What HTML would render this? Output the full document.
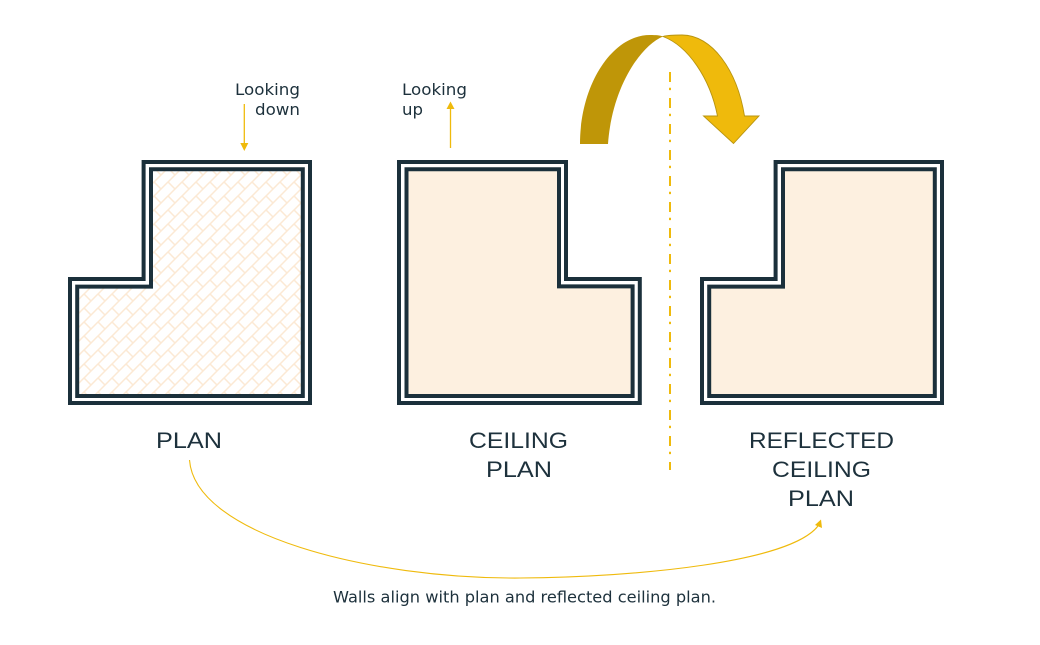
<!DOCTYPE html>
<html><head><meta charset="utf-8"><style>
html,body{margin:0;padding:0;background:#fff;width:1040px;height:645px;overflow:hidden}
svg{display:block}
text{font-family:"DejaVu Sans","Liberation Sans",sans-serif;fill:#1d313c;font-weight:normal}
.w{fill:none;stroke:#1b303b;stroke-width:4;stroke-linejoin:miter}
.g{fill:#fff;stroke:#8b979c;stroke-width:0.6}
.l{font-family:"Liberation Sans",sans-serif;font-size:22.5px}
.s{font-size:16px}
</style></head><body>
<svg width="1040" height="645" viewBox="0 0 1040 645" xmlns="http://www.w3.org/2000/svg">
<defs>
<pattern id="h" width="14" height="14" patternUnits="userSpaceOnUse">
<rect width="14" height="14" fill="#fff"/>
<path d="M0 14L14 0M-3 3L3 -3M11 17L17 11" stroke="#fce9d4" stroke-width="1.5" fill="none"/>
<path d="M0 0L7 7M14 14L16 16M-2 12L0 14" stroke="#fce9d4" stroke-width="1.5" fill="none"/>
</pattern>
</defs>

<!-- PLAN -->
<path class="g" d="M70 403V279H143.6V162H310V403Z"/>
<path d="M77.2 396V286.6H151V169.2H302.8V396Z" fill="url(#h)"/>
<path class="w" d="M70 403V279H143.6V162H310V403Z"/>
<path class="w" d="M77.2 396V286.6H151V169.2H302.8V396Z"/>

<!-- CEILING PLAN -->
<path class="g" d="M399 403V162H566V279H639.8V403Z"/>
<path d="M406.5 396V169.2H559V286.4H632.6V396Z" fill="#fdf0e0"/>
<path class="w" d="M399 403V162H566V279H639.8V403Z"/>
<path class="w" d="M406.5 396V169.2H559V286.4H632.6V396Z"/>

<!-- RCP -->
<path class="g" d="M702 403V279H775.6V162H942V403Z"/>
<path d="M709.2 396V286.6H783V169.2H934.8V396Z" fill="#fdf0e0"/>
<path class="w" d="M702 403V279H775.6V162H942V403Z"/>
<path class="w" d="M709.2 396V286.6H783V169.2H934.8V396Z"/>

<!-- big arrow -->
<path d="M580 144C580 85 612 35 650 35C656 35 660 35.3 663 36.5C640 46 612 88 608 144Z" fill="#bf9608"/>
<path d="M663 36.5C668 35 675 35 682 35C712 35 737 70 744.5 116H759L733.5 143.5L703.5 116H717.5C710 78 688 46 663 36.5Z" fill="#efba0c" stroke="#b8940f" stroke-width="0.9" stroke-linejoin="miter"/>

<!-- dash-dot -->
<path d="M670 72V470" stroke="#efba0c" stroke-width="2" stroke-dasharray="10 5.7 2.4 7.9" fill="none"/>

<!-- small arrows -->
<path d="M244.3 104V144" stroke="#efba0c" stroke-width="1.3" fill="none"/>
<path d="M240.3 143H248.3L244.3 151Z" fill="#efba0c"/>
<path d="M450.5 148V108" stroke="#efba0c" stroke-width="1.3" fill="none"/>
<path d="M446.5 109H454.5L450.5 101.5Z" fill="#efba0c"/>

<!-- curve -->
<path d="M189.5 460C195 535 370 579 520 578C640 577 790 562 818 526" stroke="#efba0c" stroke-width="1.1" fill="none"/>
<path d="M821 519.5L822 528L815 525Z" fill="#efba0c"/>

<!-- labels -->
<text class="s" x="235" y="95" textLength="65" lengthAdjust="spacingAndGlyphs">Looking</text>
<text class="s" x="255" y="115" textLength="45" lengthAdjust="spacingAndGlyphs">down</text>
<text class="s" x="402" y="95" textLength="65" lengthAdjust="spacingAndGlyphs">Looking</text>
<text class="s" x="402" y="115" textLength="21" lengthAdjust="spacingAndGlyphs">up</text>

<text class="l" x="156" y="448" textLength="66" lengthAdjust="spacingAndGlyphs">PLAN</text>
<text class="l" x="469" y="448" textLength="99" lengthAdjust="spacingAndGlyphs">CEILING</text>
<text class="l" x="486" y="477" textLength="66" lengthAdjust="spacingAndGlyphs">PLAN</text>
<text class="l" x="749" y="448" textLength="145" lengthAdjust="spacingAndGlyphs">REFLECTED</text>
<text class="l" x="772" y="477" textLength="99" lengthAdjust="spacingAndGlyphs">CEILING</text>
<text class="l" x="788" y="506" textLength="66" lengthAdjust="spacingAndGlyphs">PLAN</text>

<text class="s" x="333" y="602.5" textLength="383" lengthAdjust="spacingAndGlyphs">Walls align with plan and reflected ceiling plan.</text>
</svg>
</body></html>
